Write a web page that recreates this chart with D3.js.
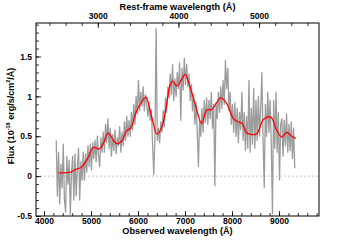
<!DOCTYPE html>
<html>
<head>
<meta charset="utf-8">
<script src="https://cdn.jsdelivr.net/npm/d3@7"></script>
<style>
  body { margin: 0; background: #fff; }
  svg text { font-family: "Liberation Sans", Arial, Helvetica, sans-serif; font-weight: bold; fill: #000; }
</style>
</head>
<body>
<div id="chart"></div>
<script>
// observed spectrum, flux in 1e-18 erg/s/cm2/A, sampled every specStep A from specStart
const specStart = 4260;
const specStep = 25;
const specFlux = [
  0.45, -0.25, 0.30, -0.35, 0.15, -0.15, 0.40, -0.30,
  -0.45, 0.25, -0.10, 0.20, -0.48, 0.05, 0.25, -0.30,
  0.28, -0.25, 0.10, 0.35, -0.30, 0.18, -0.05, 0.30,
  -0.05, 0.28, 0.05, 0.38, 0.12, 0.40, 0.08, 0.42,
  0.22, 0.45, 0.18, 0.50, 0.25, 0.12, 0.48, 0.30,
  0.55, 0.30, 0.65, 0.42, 0.72, 0.35, 0.60, 0.25,
  0.52, 0.32, 0.58, 0.28, 0.48, 0.38, 0.62, 0.30,
  0.55, 0.38, 0.68, 0.45, 0.75, 0.50, 0.70, 0.50,
  0.80, 0.58, 0.90, 0.65, 1.00, 0.78, 1.20, 0.82,
  1.05, 0.88, 1.12, 0.82, 1.02, 0.90, 0.75, 0.92,
  0.70, 0.82, 0.40, 0.02, 0.48, 1.85, 0.45, 0.60,
  0.42, 0.68, 0.55, 0.82, 0.62, 0.98, 0.80, 1.12,
  0.98, 1.28, 1.02, 1.40, 0.95, 1.22, 1.00, 1.30,
  1.10, 1.42, 0.70, 1.35, 1.08, 1.48, 1.15, 1.40,
  1.12, 1.28, 0.95, 1.15, 0.82, 1.02, 0.65, 0.92,
  0.55, 0.12, 0.70, 0.50, 0.85, 0.55, 0.95, 0.68,
  0.98, 0.65, 0.95, 0.72, 1.05, 0.60, 0.90, -0.12,
  0.92, 0.72, 1.05, 0.80, 1.12, 0.85, 1.20, 0.90,
  1.45, 1.10, 1.35, 0.82, 1.05, 0.65, 0.90, 0.55,
  0.92, 0.50, 0.85, 0.42, 0.80, 0.58, 1.05, 0.45,
  0.80, 0.32, 0.75, 0.35, 1.20, 0.30, 0.85, 0.40,
  1.10, 0.35, 0.95, 0.45, 1.00, 0.50, 0.85, 1.30,
  0.45, -0.14, 0.90, 0.50, 1.05, 0.55, 0.95, 0.40,
  -0.47, 0.95, 0.35, 1.05, 0.30, 0.80, -0.05, 0.65,
  0.72, 0.25, 0.70, 0.38, 0.78, 0.30, 0.65, 0.32,
  0.68, 0.22, 0.60, 0.10
];

// smooth model (red)
const modelWave = [4309, 4568, 4660, 4802, 4943, 5049, 5177, 5266, 5368, 5474, 5553, 5653, 5760, 5840,
  5972, 6079, 6170, 6240, 6326, 6398, 6504, 6611, 6681, 6745, 6823, 6915, 7000, 7106, 7213, 7355,
  7462, 7568, 7660, 7760, 7887, 8028, 8134, 8206, 8313, 8383, 8526, 8666, 8823, 8951, 9057, 9164,
  9249, 9351];
const modelFlux = [0.04, 0.05, 0.08, 0.115, 0.24, 0.36, 0.34, 0.415, 0.54, 0.45, 0.405, 0.44, 0.57, 0.60,
  0.82, 0.93, 0.99, 0.87, 0.66, 0.53, 0.61, 0.91, 1.14, 1.19, 1.13, 1.20, 1.275, 1.12, 0.91, 0.66,
  0.83, 0.835, 0.91, 0.98, 0.91, 0.72, 0.68, 0.665, 0.54, 0.525, 0.53, 0.71, 0.74, 0.575, 0.49, 0.55,
  0.51, 0.47];

const redshift = 0.715;
const obsRange = [3830, 9850];
const fluxRange = [-0.5, 1.92];
const obsMajor = [4000, 5000, 6000, 7000, 8000, 9000];
const restMajor = [3000, 4000, 5000];
const fluxMajor = [-0.5, 0, 0.5, 1, 1.5];

const width = 355, height = 240;
const margin = { top: 23, right: 36, bottom: 24, left: 36 };
const w = width - margin.left - margin.right;
const h = height - margin.top - margin.bottom;

const svg = d3.select("#chart").append("svg")
  .attr("width", width)
  .attr("height", height);

const g = svg.append("g")
  .attr("transform", "translate(" + margin.left + "," + margin.top + ")");

const x = d3.scaleLinear().domain(obsRange).range([0, w]);
const xRest = d3.scaleLinear().domain(obsRange.map(d => d / (1 + redshift))).range([0, w]);
const y = d3.scaleLinear().domain(fluxRange).range([h, 0]);

g.append("defs").append("clipPath").attr("id", "clip")
  .append("rect").attr("width", w).attr("height", h);

// zero line
g.append("line")
  .attr("x1", 0).attr("x2", w)
  .attr("y1", y(0)).attr("y2", y(0))
  .attr("stroke", "#b8b8b8")
  .attr("stroke-width", 0.8)
  .attr("stroke-dasharray", "2,2");

let spec = specFlux.map((f, i) => ({ wave: specStart + i * specStep, flux: f }));
let model = modelWave.map((wv, i) => ({ wave: wv, flux: modelFlux[i] }));

let line = d3.line()
  .x(d => x(d.wave))
  .y(d => y(d.flux));

g.append("path")
  .datum(spec)
  .attr("clip-path", "url(#clip)")
  .attr("fill", "none")
  .attr("stroke", "#9c9c9c")
  .attr("stroke-width", 1.3)
  .attr("stroke-linejoin", "round")
  .attr("d", line);

g.append("path")
  .datum(model)
  .attr("fill", "none")
  .attr("stroke", "#ff0000")
  .attr("stroke-width", 1.3)
  .attr("d", line.curve(d3.curveCatmullRom));

// axes: ticks point inward
let fmt = d => String(d);

let minorObs = d3.range(4000, obsRange[1], 200);
g.append("g")
  .attr("transform", "translate(0," + h + ")")
  .call(d3.axisBottom(x).tickValues(minorObs).tickSizeInner(-3).tickSizeOuter(0).tickFormat(""));
g.append("g")
  .attr("transform", "translate(0," + h + ")")
  .call(d3.axisBottom(x).tickValues(obsMajor).tickSizeInner(-5).tickSizeOuter(0).tickPadding(2).tickFormat(fmt));

let restDom = xRest.domain();
let minorRest = d3.range(Math.ceil(restDom[0] / 200) * 200, restDom[1], 200);
g.append("g")
  .call(d3.axisTop(xRest).tickValues(minorRest).tickSizeInner(-3).tickSizeOuter(0).tickFormat(""));
g.append("g")
  .call(d3.axisTop(xRest).tickValues(restMajor).tickSizeInner(-5).tickSizeOuter(0).tickPadding(4).tickFormat(fmt));

let minorFlux = d3.range(-5, 20).map(d => d / 10);
g.append("g")
  .call(d3.axisLeft(y).tickValues(minorFlux).tickSizeInner(-3).tickSizeOuter(0).tickFormat(""));
g.append("g")
  .call(d3.axisLeft(y).tickValues(fluxMajor).tickSizeInner(-5).tickSizeOuter(0).tickPadding(4).tickFormat(fmt));

g.selectAll(".domain").remove();
g.selectAll(".tick line").attr("stroke", "#000").attr("stroke-width", 0.8);
g.selectAll(".tick text").style("font-size", "8.5px");

g.append("rect")
  .attr("width", w).attr("height", h)
  .attr("fill", "none")
  .attr("stroke", "#000")
  .attr("stroke-width", 1);

// titles
svg.append("text")
  .attr("x", margin.left + w / 2).attr("y", 234)
  .attr("text-anchor", "middle")
  .style("font-size", "9.2px")
  .text("Observed wavelength (Å)");

svg.append("text")
  .attr("x", margin.left + w / 2).attr("y", 9.5)
  .attr("text-anchor", "middle")
  .style("font-size", "9.2px")
  .text("Rest-frame wavelength (Å)");

let yt = svg.append("text")
  .attr("transform", "translate(13.5," + (margin.top + 93) + ") rotate(-90)")
  .attr("text-anchor", "middle")
  .style("font-size", "9px");
yt.append("tspan").text("Flux (10");
yt.append("tspan").attr("dy", -3.5).style("font-size", "5.5px").text("-18");
yt.append("tspan").attr("dy", 3.5).text(" erg/s/cm");
yt.append("tspan").attr("dy", -3.5).style("font-size", "5.5px").text("2");
yt.append("tspan").attr("dy", 3.5).text("/Å)");
</script>
</body>
</html>
